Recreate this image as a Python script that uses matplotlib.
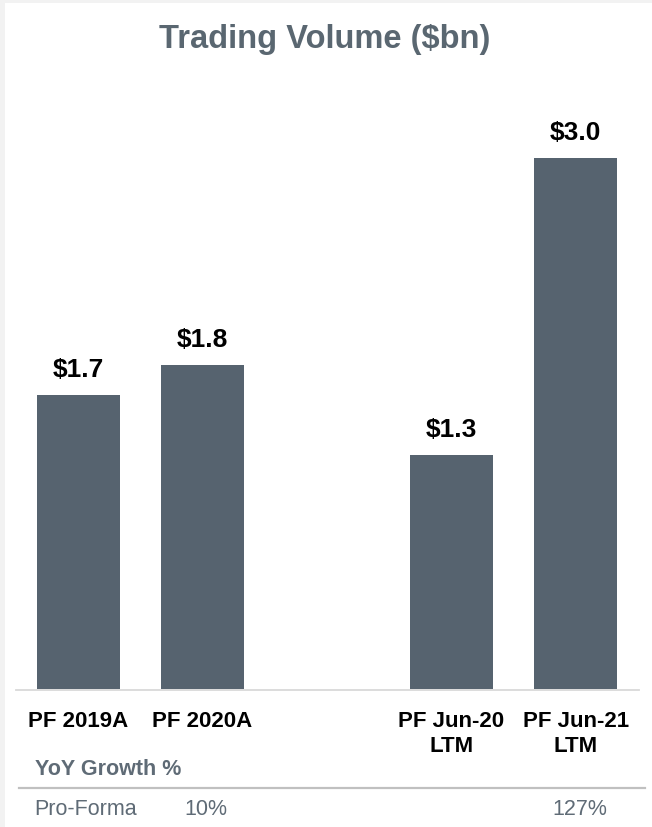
import matplotlib
matplotlib.use("Agg")
import matplotlib.pyplot as plt
from matplotlib.patches import Rectangle
from matplotlib.lines import Line2D
from matplotlib.transforms import blended_transform_factory

# ---- data ----
categories = ["PF 2019A", "PF 2020A", "PF Jun-20\nLTM", "PF Jun-21\nLTM"]
positions = [0, 1, 3, 4]
volumes = [1.66, 1.83, 1.32, 3.0]
value_labels = ["$1.7", "$1.8", "$1.3", "$3.0"]
growth_row_label = "Pro-Forma"
growth_labels = ["", "10%", "", "127%"]
title = "Trading Volume ($bn)"
growth_header = "YoY Growth %"

W, H = 652, 827
DPI = 100
plt.rcParams['font.family'] = ['Liberation Sans', 'DejaVu Sans']

BAR = '#56636f'
TITLE_C = '#5a6771'
GRAY_T = '#5f6b76'

fig = plt.figure(figsize=(W / DPI, H / DPI), dpi=DPI)
fig.patch.set_facecolor('#f2f2f2')
fig.patches.append(Rectangle((5 / W, 0), 1 - 5 / W, (H - 3) / H,
                             transform=fig.transFigure, facecolor='white',
                             edgecolor='none', zorder=-10))

def fy(py):
    return 1 - py / H

def fx(px):
    return px / W

ax_left, ax_right = 16, 638
ax_bottom_px = 689
ymax = 3.3
px_per_unit = 176.9
ax_h = ymax * px_per_unit
ax = fig.add_axes([fx(ax_left), fy(ax_bottom_px), (ax_right - ax_left) / W, ax_h / H])
ax.set_facecolor('none')
ax.bar(positions, volumes, width=0.667, color=BAR, zorder=2)
ax.set_xlim(-0.5, 4.5)
ax.set_ylim(0, ymax)
ax.axis('off')

for x, v, lab in zip(positions, volumes, value_labels):
    ax.annotate(lab, (x, v), xytext=(0, 13), textcoords='offset points',
                ha='center', va='baseline', fontsize=19, fontweight='bold',
                color='black')

# baseline
fig.add_artist(Line2D([fx(16), fx(639)], [fy(690), fy(690)],
                      transform=fig.transFigure, color='#d9d9d9', lw=1.3))

# title
fig.text(fx(324.5), fy(48), title, ha='center', va='baseline',
         fontsize=23.5, fontweight='bold', color=TITLE_C)

# category labels
bt = blended_transform_factory(ax.transData, fig.transFigure)
for x, cat in zip(positions, categories):
    for i, line in enumerate(cat.split('\n')):
        ax.text(x, fy(727 + 25 * i), line, transform=bt, ha='center',
                va='baseline', fontsize=16, fontweight='bold', color='black',
                clip_on=False)

# growth section
fig.text(fx(35), fy(775), growth_header, ha='left', va='baseline',
         fontsize=15.5, fontweight='bold', color=GRAY_T)
fig.add_artist(Line2D([fx(19), fx(645)], [fy(788), fy(788)],
                      transform=fig.transFigure, color='#c0c0c0', lw=1.6))
fig.text(fx(34), fy(815), growth_row_label, ha='left', va='baseline',
         fontsize=15.5, color=GRAY_T)
for x, g in zip(positions, growth_labels):
    if g:
        ax.text(x + 0.03, fy(815), g, transform=bt, ha='center', va='baseline',
                fontsize=15.5, color=GRAY_T, clip_on=False)

fig.savefig('out.png', dpi=DPI, facecolor=fig.get_facecolor())
